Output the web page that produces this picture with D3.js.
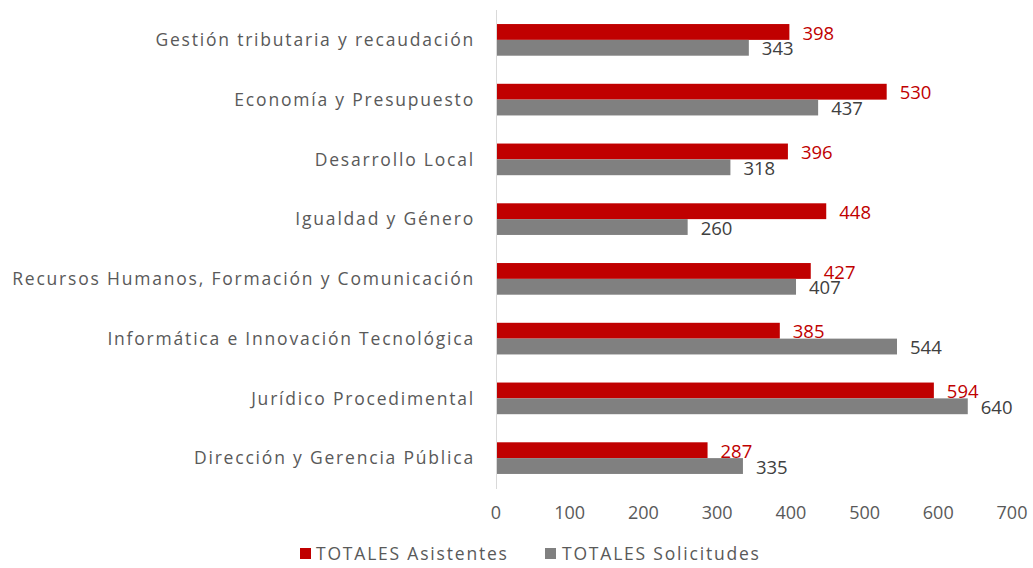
<!DOCTYPE html>
<html><head><meta charset="utf-8">
<script src="https://cdn.jsdelivr.net/npm/d3@7"></script>
<style>body{margin:0;background:#fff;}svg{display:block;font-family:"Open Sans",sans-serif;}</style>
</head><body>
<svg id="c" width="1033" height="568"></svg>
<script>
const categories = ["Gestión tributaria y recaudación","Economía y Presupuesto","Desarrollo Local","Igualdad y Género","Recursos Humanos, Formación y Comunicación","Informática e Innovación Tecnológica","Jurídico Procedimental","Dirección y Gerencia Pública"];
const asistentes = [398,530,396,448,427,385,594,287];
const solicitudes = [343,437,318,260,407,544,640,335];
const seriesNames = ["TOTALES Asistentes","TOTALES Solicitudes"];
const seriesColors = ["#C00000","#808080"];
const labelColors = ["#C00000","#404040"];
const xTicks = [0,100,200,300,400,500,600,700];

const svg = d3.select("#c");
const x = d3.scaleLinear().domain([0,700]).range([496,1012]);
const y = d3.scaleBand().domain(categories).range([10,488]).paddingInner(0.47).paddingOuter(0.235);
const sub = d3.scaleBand().domain([0,1]).range([0,y.bandwidth()]);

// axis line
svg.append("line").attr("x1",x(0)+0.5).attr("x2",x(0)+0.5).attr("y1",10).attr("y2",489).attr("stroke","#d9d9d9").attr("stroke-width",1);

const data = [asistentes, solicitudes];
data.forEach((vals,si)=>{
  svg.append("g").selectAll("rect").data(categories).join("rect")
    .attr("x",x(0)+1).attr("y",d=>y(d)+sub(si))
    .attr("width",(d,i)=>x(vals[i])-x(0)-1).attr("height",sub.bandwidth())
    .attr("fill",seriesColors[si]);
  svg.append("g").selectAll("text").data(categories).join("text")
    .attr("x",(d,i)=>x(vals[i])+13).attr("y",d=>y(d)+sub(si)+sub.bandwidth()/2+1)
    .attr("dy","0.36em").attr("font-size",18.5).attr("fill",labelColors[si])
    .text((d,i)=>vals[i]);
});

// category labels
svg.append("g").selectAll("text").data(categories).join("text")
  .attr("x",475).attr("y",d=>y(d)+y.bandwidth()/2).attr("dy","0.36em")
  .attr("text-anchor","end").attr("font-size",17.5).attr("letter-spacing","1.8px").attr("fill","#595959")
  .text(d=>d);

// x ticks
svg.append("g").selectAll("text").data(xTicks).join("text")
  .attr("x",d=>x(d)).attr("y",513).attr("dy","0.36em").attr("text-anchor","middle")
  .attr("font-size",18).attr("fill","#595959").text(d=>d);

// legend
const leg = [{x:300,tx:316},{x:545,tx:562}];
seriesNames.forEach((n,i)=>{
  svg.append("rect").attr("x",leg[i].x).attr("y",548).attr("width",11).attr("height",11).attr("fill",seriesColors[i]);
  svg.append("text").attr("x",leg[i].tx).attr("y",554).attr("dy","0.36em").attr("font-size",17.5)
    .attr("letter-spacing","1.8px").attr("fill","#595959").text(n);
});
</script>
</body></html>
